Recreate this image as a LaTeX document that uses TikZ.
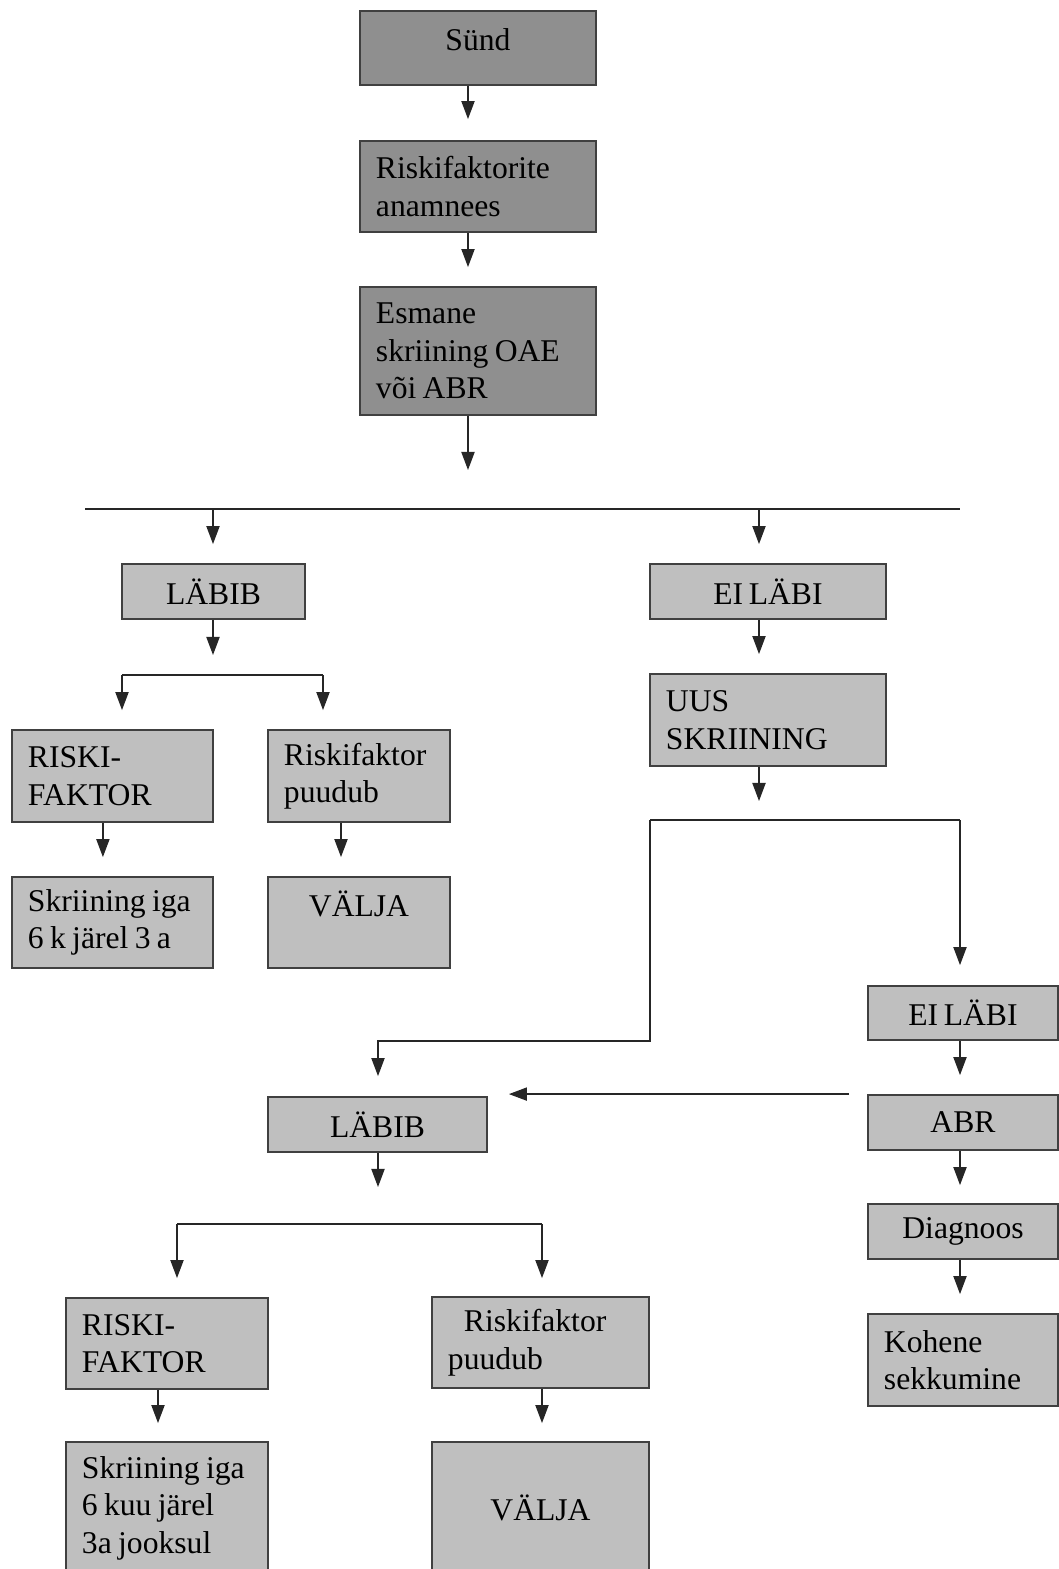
\documentclass[tikz,border=0pt]{standalone}
\usepackage{fontspec}
\setmainfont{Liberation Serif}[WordSpace=0.7]
\usetikzlibrary{arrows.meta}

\definecolor{darkbox}{gray}{0.56}
\definecolor{lightbox}{gray}{0.75}
\definecolor{boxline}{gray}{0.25}
\definecolor{linegray}{gray}{0.15}

\tikzset{
  box/.style={draw=boxline, line width=1.3pt, fill=lightbox, inner ysep=0pt, align=center,
    font=\fontsize{22.5}{26.7}\selectfont},
  darkbox/.style={box, fill=darkbox},
  leftbox/.style={align=left, inner xsep=0.4cm,
    execute at begin node={\spaceskip=0.2em\relax}},
  arr/.style={-{Triangle[length=0.45cm,width=0.33cm]}, line width=0.9pt, draw=linegray},
  line/.style={line width=0.9pt, draw=linegray}
}

\begin{document}
\begin{tikzpicture}[x=0.025cm, y=-0.025cm]
\useasboundingbox (0,0) rectangle (1058,1569);

% Top boxes
\node[darkbox, minimum width=5.9cm, minimum height=1.85cm, text depth=0.4cm] (sund) at (478,48) {Sünd};
\node[darkbox, leftbox, text width=5.1cm, minimum height=2.275cm] (anam) at (478,186.5) {Riskifaktorite\\anamnees};
\node[darkbox, leftbox, text width=5.1cm, minimum height=3.2cm] (esm) at (478,351) {Esmane\\\mbox{skriining OAE}\\või ABR};

% Bus lines
\coordinate (esmtip) at (468,470);
\coordinate (bus1l) at (85,509);
\coordinate (bus1r) at (960,509);
\coordinate (d1) at (213,509);
\coordinate (d2) at (759,509);
\coordinate (br1l) at (122,675);
\coordinate (br1r) at (323,675);
\coordinate (br2l) at (650,820);
\coordinate (br2r) at (960,820);
\coordinate (k1) at (378,1041);
\coordinate (br3l) at (177,1224);
\coordinate (br3r) at (542,1224);

% Left branch
\node[box, minimum width=4.575cm, minimum height=1.375cm] (labib1) at (213.5,591.5) {LÄBIB};
\node[box, leftbox, text width=4.225cm, minimum height=2.3cm] (riski1) at (112.5,776) {RISKI-\\FAKTOR};
\node[box, leftbox, text width=3.75cm, minimum height=2.3cm] (puud1) at (359,776) {Riskifaktor\\puudub};
\node[box, leftbox, text width=4.225cm, minimum height=2.275cm] (skr1) at (112.5,922.5) {\mbox{Skriining iga}\\\mbox{6 k järel 3 a}};
\node[box, minimum width=4.55cm, minimum height=2.275cm] (valja1) at (359,922.5) {VÄLJA\\\mbox{}};

% Right branch
\node[box, minimum width=5.9cm, minimum height=1.375cm] (eilabi1) at (768,591.5) {EI LÄBI};
\node[box, leftbox, text width=5.1cm, minimum height=2.3cm] (uus) at (768,720) {UUS\\SKRIINING};
\node[box, minimum width=4.75cm, minimum height=1.35cm] (eilabi2) at (963,1013) {EI LÄBI};
\node[box, minimum width=4.75cm, minimum height=1.375cm] (abr) at (963,1122.5) {ABR};
\node[box, minimum width=4.75cm, minimum height=1.375cm] (diag) at (963,1231.5) {Diagnoos};
\node[box, leftbox, text width=3.95cm, minimum height=2.3cm] (koh) at (963,1360) {Kohene\\sekkumine};

% Second screening passed
\node[box, minimum width=5.475cm, minimum height=1.375cm] (labib2) at (377.5,1124.5) {LÄBIB};
\node[box, leftbox, text width=4.25cm, minimum height=2.275cm] (riski2) at (167,1343.5) {RISKI-\\FAKTOR};
\node[box, leftbox, text width=4.625cm, minimum height=2.275cm] (puud2) at (540.5,1342.5) {\hspace*{0.4cm}Riskifaktor\\puudub};
\node[box, leftbox, text width=4.25cm, minimum height=3.3cm] (skr2) at (167,1508) {\mbox{Skriining iga}\\\mbox{6 kuu järel}\\\mbox{3a jooksul}};
\node[box, minimum width=5.425cm, minimum height=3.3cm] (valja2) at (540.5,1508) {VÄLJA};

% Connectors
\draw[arr, shorten >=0.525cm] ([xshift=-0.25cm]sund.south) -- ([xshift=-0.25cm]anam.north);
\draw[arr, shorten >=0.475cm] ([xshift=-0.25cm]anam.south) -- ([xshift=-0.25cm]esm.north);
\draw[arr] (esm.south -| esmtip) -- (esmtip);
\draw[line] (bus1l) -- (bus1r);
\draw[arr, shorten >=0.475cm] (d1) -- (d1 |- labib1.north);
\draw[arr, shorten >=0.475cm] (d2) -- (d2 |- eilabi1.north);

\draw[arr, shorten >=0.5cm] (labib1.south -| d1) -- (br1l -| d1);
\draw[line] (br1l) -- (br1r);
\draw[arr, shorten >=0.475cm] (br1l) -- (br1l |- riski1.north);
\draw[arr, shorten >=0.475cm] (br1r) -- (br1r |- puud1.north);
\draw[arr, shorten >=0.475cm] ([xshift=-0.24cm]riski1.south) -- ([xshift=-0.24cm]skr1.north);
\draw[arr, shorten >=0.475cm] ([xshift=-0.45cm]puud1.south) -- ([xshift=-0.45cm]valja1.north);

\draw[arr, shorten >=0.475cm] (eilabi1.south -| d2) -- (uus.north -| d2);
\draw[arr, shorten >=0.475cm] (uus.south -| d2) -- (br2l -| d2);
\draw[line] (br2l) -- (br2r);
\draw[arr, shorten >=0.5cm] (br2r) -- (br2r |- eilabi2.north);
\draw[arr, shorten >=0.5cm] (br2l) |- (k1) -- (k1 |- labib2.north);

\draw[arr, shorten >=0.475cm] (eilabi2.south -| br2r) -- (abr.north -| br2r);
\draw[arr, shorten <=0.45cm, shorten >=0.525cm] (abr.north west) -- (abr.north west -| labib2.east);
\draw[arr, shorten >=0.45cm] (abr.south -| br2r) -- (diag.north -| br2r);
\draw[arr, shorten >=0.475cm] (diag.south -| br2r) -- (koh.north -| br2r);

\draw[arr, shorten >=0.925cm] (labib2.south -| k1) -- (br3l -| k1);
\draw[line] (br3l) -- (br3r);
\draw[arr, shorten >=0.475cm] (br3l) -- (br3l |- riski2.north);
\draw[arr, shorten >=0.45cm] (br3r) -- (br3r |- puud2.north);
\draw[arr, shorten >=0.45cm] ([xshift=-0.225cm]riski2.south) -- ([xshift=-0.225cm]skr2.north);
\draw[arr, shorten >=0.45cm] (puud2.south -| br3r) -- (valja2.north -| br3r);

\end{tikzpicture}
\end{document}
